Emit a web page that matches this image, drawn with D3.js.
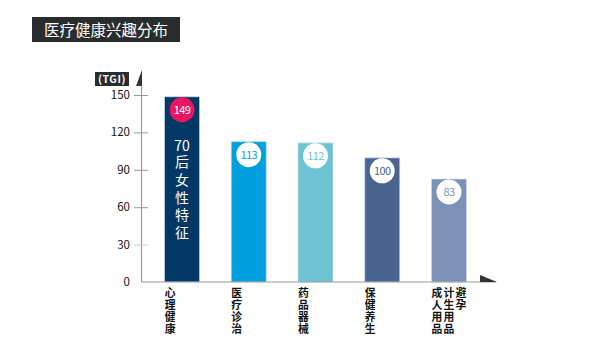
<!DOCTYPE html>
<html lang="zh">
<head>
  <meta charset="utf-8">
  <script src="https://cdn.jsdelivr.net/npm/d3@7"></script>
  <style>
    body { margin: 0; background: #fff; font-family: "Noto Sans CJK SC", "Noto Sans", sans-serif; }
    #chart text { font-family: "Noto Sans CJK SC", "Liberation Sans", sans-serif; }
    #chart text.vert { writing-mode: vertical-rl; text-orientation: upright; }
  </style>
</head>
<body>
  <svg id="chart" width="601" height="361"></svg>
  <script>
    // data
    var categories = [["心理健康"], ["医疗诊治"], ["药品器械"], ["保健养生"], ["成人用品", "计生用品", "避孕"]];
    var values = [149, 113, 112, 100, 83];
    var colors = ["#033866", "#009fdf", "#6dc3d4", "#4a6490", "#7b92b6"];
    var ticks = [0, 30, 60, 90, 120, 150];
    var title = "医疗健康兴趣分布";
    var highlight = "70后女性特征";

    var svg = d3.select("#chart");

    // title box
    svg.append("rect").attr("x", 32).attr("y", 17).attr("width", 148).attr("height", 25)
      .attr("fill", "#2a2d2e");
    svg.append("text").attr("x", 106).attr("y", 35.5).attr("text-anchor", "middle")
      .attr("fill", "#fff").attr("font-size", 15.5).text(title);

    var x = d3.scaleBand().domain(d3.range(values.length)).range([148, 483]).paddingInner(0.46).paddingOuter(0.24);
    var y = d3.scaleLinear().domain([0, 150]).range([282, 95]);

    // y axis
    var axisX = 141.5;
    svg.append("line").attr("x1", axisX).attr("x2", axisX).attr("y1", 80).attr("y2", y(0))
      .attr("stroke", "#999").attr("stroke-width", 1.2);
    svg.append("path").attr("d", "M142,70L142,86L136,86Z").attr("fill", "#333");
    svg.append("rect").attr("x", 95).attr("y", 72).attr("width", 34).attr("height", 14).attr("fill", "#2a2d2e");
    svg.append("text").attr("x", 112).attr("y", 83).attr("text-anchor", "middle").attr("fill", "#fff")
      .attr("font-size", 10.5).attr("font-family", "Liberation Sans").attr("font-weight", "bold")
      .attr("letter-spacing", 0.6).text("(TGI)");

    var gy = svg.append("g");
    gy.selectAll("line").data(ticks.filter(function(d){ return d > 0; })).enter().append("line")
      .attr("x1", 134).attr("x2", 148).attr("y1", function(d){ return y(d) + 0.5; }).attr("y2", function(d){ return y(d) + 0.5; })
      .attr("stroke", function(d){ return d === 30 ? "#ccc" : "#999"; });
    gy.selectAll("text").data(ticks).enter().append("text")
      .attr("x", 130).attr("y", function(d){ return y(d) + 4; }).attr("text-anchor", "end")
      .attr("font-size", 11.5).attr("fill", "#111").attr("font-family", "Liberation Sans Narrow, Liberation Sans")
      .text(function(d){ return d; });

    // bars
    svg.selectAll(".bar").data(values).enter().append("rect").attr("class", "bar")
      .attr("x", function(d, i){ return x(i) + 0.5; })
      .attr("y", function(d){ return y(d) + 0.5; })
      .attr("width", x.bandwidth() - 1)
      .attr("height", function(d){ return y(0) - y(d) - 0.5; })
      .attr("fill", function(d, i){ return colors[i]; })
      .attr("stroke", "#d6e4ee").attr("stroke-width", 1).attr("stroke-opacity", 0.6);

    // x axis
    svg.append("line").attr("x1", axisX).attr("x2", 496).attr("y1", y(0)).attr("y2", y(0))
      .attr("stroke", "#999").attr("stroke-width", 1.2);
    svg.append("path").attr("d", "M480,275L497,282L480,282Z").attr("fill", "#333");

    // value circles
    var cx = function(i){ return x(i) + x.bandwidth() / 2; };
    svg.selectAll(".dot").data(values).enter().append("circle")
      .attr("cx", function(d, i){ return cx(i); })
      .attr("cy", function(d){ return y(d) + 13.5; })
      .attr("r", 12.5)
      .attr("fill", function(d, i){ return i === 0 ? "#ec1561" : "#fff"; });
    svg.selectAll(".val").data(values).enter().append("text")
      .attr("x", function(d, i){ return cx(i); })
      .attr("y", function(d){ return y(d) + 17.5; })
      .attr("text-anchor", "middle").attr("font-size", 11).attr("font-family", "Open Sans")
      .attr("letter-spacing", -0.6)
      .attr("fill", function(d, i){ return i === 0 ? "#fff" : colors[i]; })
      .text(function(d){ return d; });

    // highlight: "70" then the rest stacked vertically
    svg.append("text").attr("x", cx(0)).attr("y", 151)
      .attr("text-anchor", "middle").attr("fill", "#fff").attr("font-size", 14)
      .text(highlight.slice(0, 2));
    svg.append("text").attr("class", "vert").attr("x", cx(0)).attr("y", 155)
      .attr("fill", "#fff").attr("font-size", 14).attr("letter-spacing", 3.7)
      .text(highlight.slice(2));

    // category labels, vertical columns
    categories.forEach(function(cols, i){
      svg.selectAll(null).data(cols).enter().append("text").attr("class", "vert")
        .attr("x", function(d, c){ return cx(i) - 12 + c * 12; }).attr("y", 287)
        .attr("font-size", 10.8).attr("font-weight", "bold").attr("fill", "#111")
        .attr("letter-spacing", 1.5)
        .text(function(d){ return d; });
    });
  </script>
</body>
</html>
